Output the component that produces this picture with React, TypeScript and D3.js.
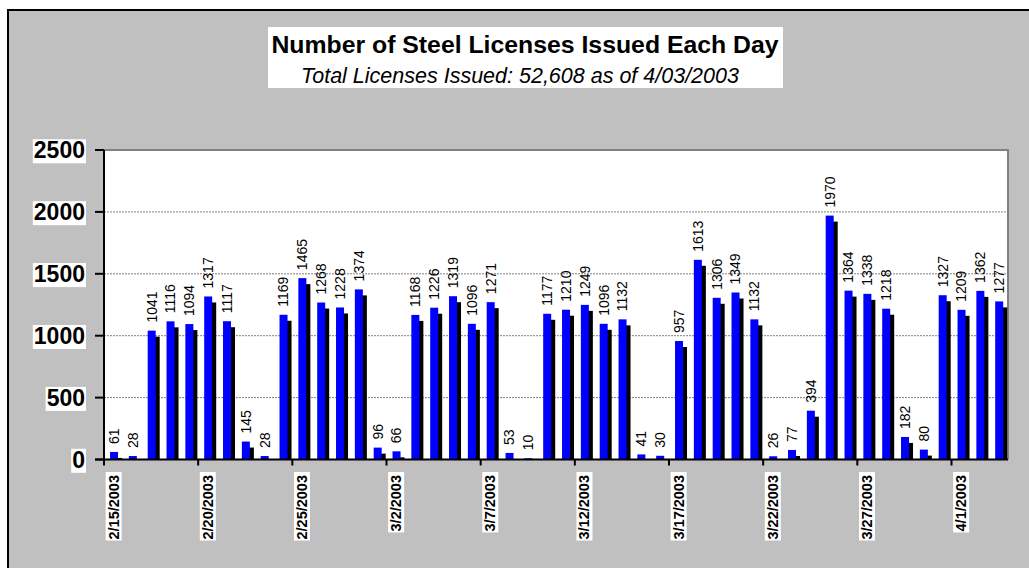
import React, { useEffect, useRef } from "react";
import * as d3 from "d3";

const dates = [
  "2/15/2003", "2/16/2003", "2/17/2003", "2/18/2003", "2/19/2003", "2/20/2003", "2/21/2003",
  "2/22/2003", "2/23/2003", "2/24/2003", "2/25/2003", "2/26/2003", "2/27/2003", "2/28/2003",
  "3/1/2003", "3/2/2003", "3/3/2003", "3/4/2003", "3/5/2003", "3/6/2003", "3/7/2003",
  "3/8/2003", "3/9/2003", "3/10/2003", "3/11/2003", "3/12/2003", "3/13/2003", "3/14/2003",
  "3/15/2003", "3/16/2003", "3/17/2003", "3/18/2003", "3/19/2003", "3/20/2003", "3/21/2003",
  "3/22/2003", "3/23/2003", "3/24/2003", "3/25/2003", "3/26/2003", "3/27/2003", "3/28/2003",
  "3/29/2003", "3/30/2003", "3/31/2003", "4/1/2003", "4/2/2003", "4/3/2003",
];

const licenses = [
  61, 28, 1041, 1116, 1094, 1317, 1117,
  145, 28, 1169, 1465, 1268, 1228, 1374,
  96, 66, 1168, 1226, 1319, 1096, 1271,
  53, 10, 1177, 1210, 1249, 1096, 1132,
  41, 30, 957, 1613, 1306, 1349, 1132,
  26, 77, 394, 1970, 1364, 1338, 1218,
  182, 80, 1327, 1209, 1362, 1277,
];

const xTickLabels = [
  "2/15/2003", "2/20/2003", "2/25/2003", "3/2/2003", "3/7/2003",
  "3/12/2003", "3/17/2003", "3/22/2003", "3/27/2003", "4/1/2003",
];

const yTicks = [0, 500, 1000, 1500, 2000, 2500];

const title = "Number of Steel Licenses Issued Each Day";
const subtitle = "Total Licenses Issued: 52,608 as of 4/03/2003";

const FONT = "'Liberation Sans', Arial, sans-serif";

export default function App() {
  const ref = useRef<SVGSVGElement | null>(null);

  useEffect(() => {
    const svg = d3.select(ref.current);
    svg.selectAll("*").remove();

    const left = 104, right = 1008, top = 150, bottom = 459.5;
    const x = d3.scaleBand<string>().domain(dates).range([left, right]).padding(0);
    const y = d3.scaleLinear().domain([0, 2500]).range([bottom, top]);
    const bw = x.bandwidth();
    const barW = 8;
    const barOff = bw * 0.32;
    const sdx = 4, sdy = 6;
    const pts = licenses.map((v, i) => ({ v, d: dates[i] }));

    // outer frame
    svg.append("rect").attr("x", 8).attr("y", 10).attr("width", 1100).attr("height", 700)
      .attr("fill", "#C0C0C0").attr("stroke", "#000").attr("stroke-width", 2);

    // title box
    const tg = svg.append("g");
    const tbox = tg.append("rect").attr("fill", "#fff");
    tg.append("text").attr("x", 525).attr("y", 53).attr("text-anchor", "middle")
      .attr("font-family", FONT).attr("font-weight", "bold").attr("font-size", 24.8).attr("fill", "#000").text(title);
    tg.append("text").attr("x", 520).attr("y", 83).attr("text-anchor", "middle")
      .attr("font-family", FONT).attr("font-style", "italic").attr("font-size", 21.5).attr("fill", "#000").text(subtitle);
    tbox.attr("x", 268).attr("y", 27).attr("width", 515).attr("height", 61);

    // plot area
    svg.append("rect").attr("x", left).attr("y", top).attr("width", right - left).attr("height", bottom - top).attr("fill", "#fff");

    // gridlines
    svg.append("g").selectAll("line").data(yTicks.filter((t) => t > 0 && t < 2500)).join("line")
      .attr("x1", left).attr("x2", right).attr("y1", (d) => y(d)).attr("y2", (d) => y(d))
      .attr("stroke", "#808080").attr("stroke-width", 1).attr("stroke-dasharray", "2,1");

    // top & right border
    svg.append("path").attr("d", `M${left},${top}H${right}V${bottom}`).attr("fill", "none")
      .attr("stroke", "#808080").attr("stroke-width", 2);

    // shadows
    svg.append("g").selectAll("rect").data(pts.filter((p) => y(p.v) + sdy < bottom - 1)).join("rect")
      .attr("x", (p) => (x(p.d) as number) + barOff + sdx)
      .attr("y", (p) => y(p.v) + sdy)
      .attr("width", barW)
      .attr("height", (p) => bottom - (y(p.v) + sdy))
      .attr("fill", "#000");

    // bars
    svg.append("g").selectAll("rect").data(pts).join("rect")
      .attr("x", (p) => (x(p.d) as number) + barOff)
      .attr("y", (p) => y(p.v))
      .attr("width", barW)
      .attr("height", (p) => bottom - y(p.v))
      .attr("fill", "#0000FF");

    // data labels
    svg.append("g").selectAll("text").data(pts).join("text")
      .attr("transform", (p) => `translate(${(x(p.d) as number) + barOff + barW / 2},${y(p.v) - 8}) rotate(-90)`)
      .attr("dy", "0.35em")
      .attr("font-family", FONT).attr("font-size", 14).attr("fill", "#000")
      .text((p) => String(p.v));

    // axes lines
    svg.append("line").attr("x1", left).attr("x2", left).attr("y1", top).attr("y2", bottom + 1)
      .attr("stroke", "#000").attr("stroke-width", 2);
    svg.append("line").attr("x1", left - 9).attr("x2", right).attr("y1", bottom).attr("y2", bottom)
      .attr("stroke", "#000").attr("stroke-width", 2);

    // y ticks and labels
    const yg = svg.append("g");
    yTicks.forEach((t) => {
      yg.append("line").attr("x1", left - 9).attr("x2", left).attr("y1", y(t)).attr("y2", y(t))
        .attr("stroke", "#000").attr("stroke-width", 2);
      const bg = yg.append("rect").attr("fill", "#fff");
      const tx = yg.append("text").attr("x", 85).attr("y", y(t)).attr("dy", "0.36em")
        .attr("text-anchor", "end").attr("font-family", FONT).attr("font-weight", "bold")
        .attr("font-size", 23).attr("fill", "#000").text(String(t));
      const bb = (tx.node() as SVGTextElement).getBBox();
      bg.attr("x", bb.x - 1).attr("y", bb.y + 2).attr("width", bb.width + 2).attr("height", bb.height - 2);
    });

    // x ticks and labels
    const xg = svg.append("g");
    xTickLabels.forEach((lab) => {
      const x0 = x(lab) as number;
      xg.append("line").attr("x1", x0).attr("x2", x0).attr("y1", bottom).attr("y2", bottom + 6)
        .attr("stroke", "#000").attr("stroke-width", 2);
      const g = xg.append("g").attr("transform", `translate(${x0 + bw / 2},475) rotate(-90)`);
      const bg = g.append("rect").attr("fill", "#fff");
      const tx = g.append("text").attr("x", 0).attr("y", 0).attr("dy", "0.36em")
        .attr("text-anchor", "end").attr("font-family", FONT).attr("font-weight", "bold")
        .attr("font-size", 14.5).attr("fill", "#000").text(lab);
      const bb = (tx.node() as SVGTextElement).getBBox();
      bg.attr("x", bb.x - 1).attr("y", bb.y).attr("width", bb.width + 4).attr("height", bb.height);
    });
  }, []);

  return (
    <svg
      ref={ref}
      width={1029}
      height={568}
      style={{ position: "absolute", left: 0, top: 0, display: "block" }}
    />
  );
}
